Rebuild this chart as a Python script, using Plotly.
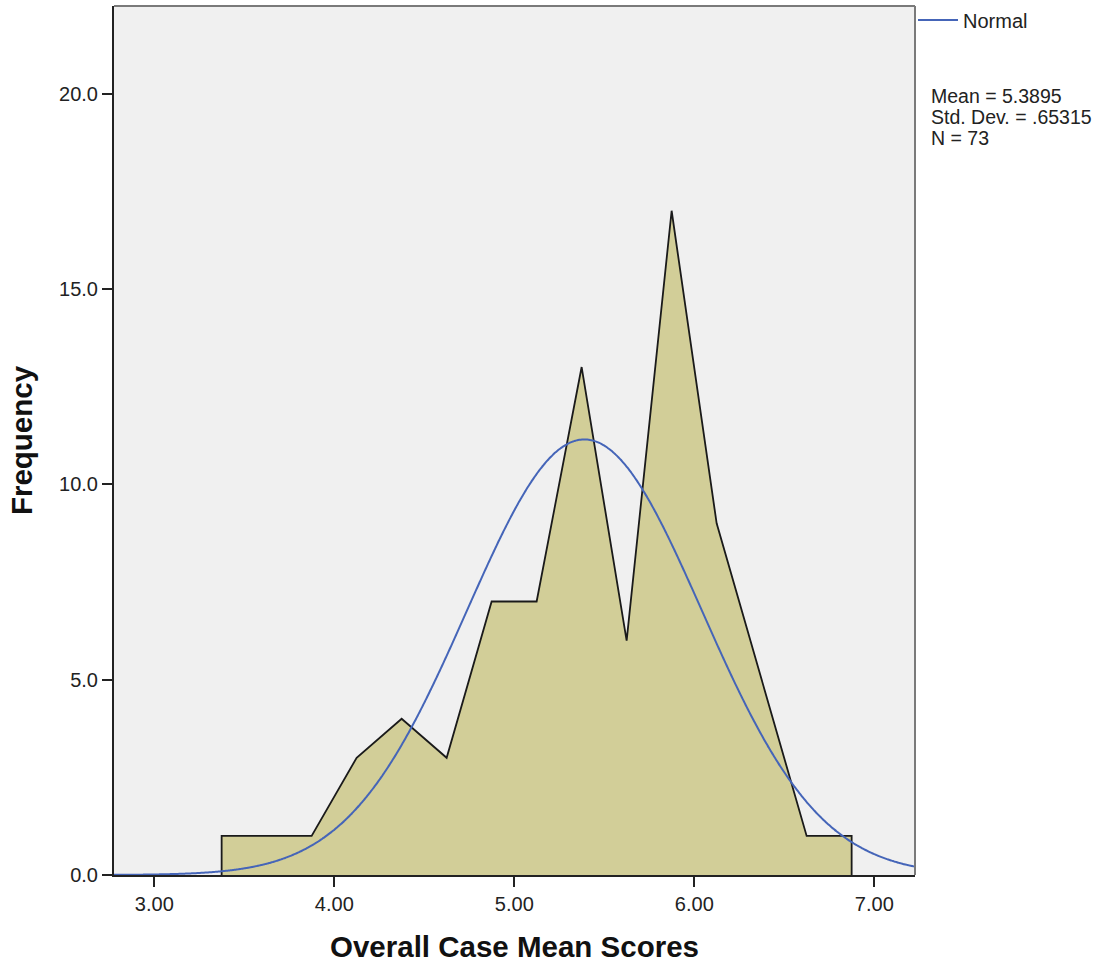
import numpy as np
import plotly.graph_objects as go

# Frequency polygon (bin width .25)
bin_x = [3.374, 3.624, 3.874, 4.124, 4.374, 4.624, 4.874, 5.124,
         5.374, 5.624, 5.874, 6.124, 6.374, 6.624, 6.874]
freq = [1, 1, 1, 3, 4, 3, 7, 7, 13, 6, 17, 9, 5, 1, 1]

mean = 5.3895
std_dev = 0.65315
n_cases = 73
bin_width = 0.25

x_ticks = [3, 4, 5, 6, 7]
y_ticks = [0, 5, 10, 15, 20]

FONT = "Liberation Sans, Arial, sans-serif"

# plot area in pixels (for placing legend/annotations in paper coords)
PL, PR, PT, PB = 114, 915, 6, 875
def px_x(p):
    return (p - PL) / (PR - PL)
def px_y(p):
    return (PB - p) / (PB - PT)

poly_x = [bin_x[0]] + bin_x + [bin_x[-1]]
poly_y = [0] + freq + [0]

xs = np.linspace(2.776, 7.226, 600)
ys = n_cases * bin_width * np.exp(-0.5 * ((xs - mean) / std_dev) ** 2) / (std_dev * np.sqrt(2 * np.pi))

fig = go.Figure()
fig.add_trace(go.Scatter(
    x=poly_x, y=poly_y, mode="lines", fill="tozeroy",
    fillcolor="#d2ce98", line=dict(color="#1a1a1a", width=1.8),
    showlegend=False, hoverinfo="skip"))
fig.add_trace(go.Scatter(
    x=xs, y=ys, mode="lines", name="Normal", showlegend=False,
    line=dict(color="#4565b8", width=2, shape="spline"), hoverinfo="skip"))

fig.update_layout(
    width=1113, height=970,
    margin=dict(l=PL, r=1113 - PR, t=PT, b=970 - PB),
    paper_bgcolor="white", plot_bgcolor="#f0f0f0",
    font=dict(family=FONT, size=20, color="#222222"),
    showlegend=False,
    xaxis=dict(range=[2.776, 7.226], tickvals=x_ticks, tickformat=".2f",
               showgrid=False, zeroline=False, showline=True, linecolor="#222222",
               linewidth=2, ticks="outside", ticklen=10, tickwidth=2, tickcolor="#222222",
               tickfont=dict(size=20, color="#222222"),
               title=dict(text="Overall Case Mean Scores", standoff=22,
                          font=dict(size=29.5, family=FONT, weight="bold", color="#111111"))),
    yaxis=dict(range=[0, 22.24], tickvals=y_ticks, tickformat=".1f",
               showgrid=False, zeroline=False, showline=True, linecolor="#222222",
               linewidth=2, ticks="outside", ticklen=10, tickwidth=2, tickcolor="#222222",
               tickfont=dict(size=20, color="#222222"),
               title=dict(text="Frequency", standoff=18,
                          font=dict(size=29.5, family=FONT, weight="bold", color="#111111"))),
    shapes=[
        dict(type="line", xref="paper", yref="paper", x0=0, x1=1, y0=1, y1=1,
             line=dict(color="#7a7a7a", width=2)),
        dict(type="line", xref="paper", yref="paper", x0=1, x1=1, y0=0, y1=1,
             line=dict(color="#7a7a7a", width=2)),
        # legend sample for the Normal curve
        dict(type="line", xref="paper", yref="paper", x0=px_x(918), x1=px_x(958),
             y0=px_y(20), y1=px_y(20), line=dict(color="#4565b8", width=2)),
    ],
)

fig.add_annotation(text="Normal", xref="paper", yref="paper", x=px_x(961),
                   y=px_y(21), xanchor="left", yanchor="middle", showarrow=False,
                   font=dict(size=20, color="#222222"))

stats = [f"Mean = {mean}", "Std. Dev. = .65315", f"N = {n_cases}"]
for i, s in enumerate(stats):
    fig.add_annotation(text=s, xref="paper", yref="paper", x=px_x(929),
                       y=px_y(96 + i * 21), xanchor="left", yanchor="middle",
                       showarrow=False, font=dict(size=19.5, color="#222222"))

fig.write_html("out.html")
